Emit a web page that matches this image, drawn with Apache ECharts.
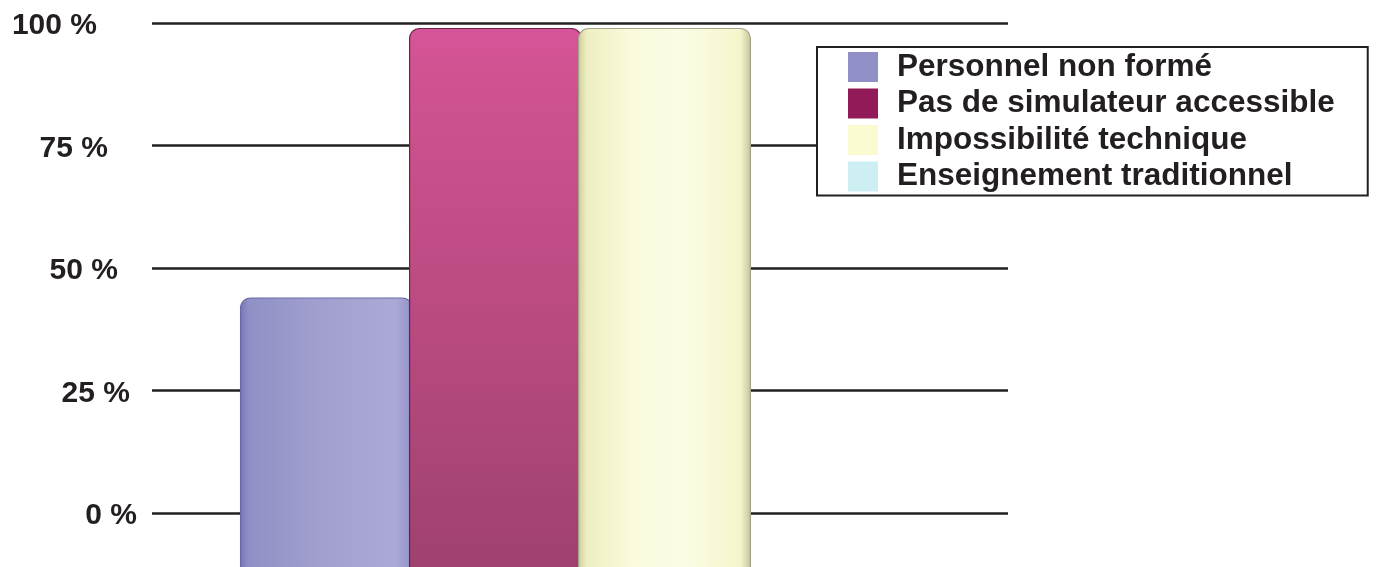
<!DOCTYPE html>
<html>
<head>
<meta charset="utf-8">
<script src="https://cdn.jsdelivr.net/npm/echarts@6/dist/echarts.min.js"></script>
<style>
html,body{margin:0;padding:0;background:#fff;}
#chart{width:1378px;height:567px;}
</style>
</head>
<body>
<div id="chart"></div>
<script>
// ---- data ----
const categories = ['Raisons'];
const seriesNames = ['Personnel non formé', 'Pas de simulateur accessible', 'Impossibilité technique', 'Enseignement traditionnel'];
const personnelNonForme = [44];
const pasDeSimulateur = [99];
const impossibiliteTechnique = [99];
const enseignementTraditionnel = [0];
const tickValues = [0, 25, 50, 75, 100];

// ---- styles ----
const FONT = "'Liberation Sans', Arial, sans-serif";
const TEXT = '#231f20';
const legendColors = ['#9090c6', '#921a58', '#fafad0', '#cdeef2'];
// perspective-like label shift (px to the left of the common label edge), per tick
const labelShift = {0: 0, 25: 7, 50: 19, 75: 29, 100: 40};

function hGrad(stops) {
  return new echarts.graphic.LinearGradient(0, 0, 1, 0, stops.map(s => ({offset: s[0], color: s[1]})));
}
function vGrad(stops) {
  return new echarts.graphic.LinearGradient(0, 0, 0, 1, stops.map(s => ({offset: s[0], color: s[1]})));
}
const barFills = [
  hGrad([[0, '#7676b8'], [0.05, '#9090c6'], [0.45, '#a19fcf'], [0.9, '#aba9d7'], [0.97, '#9a98cc'], [1, '#7474b4']]),
  vGrad([[0, '#d6559a'], [0.08, '#d05290'], [0.5, '#b84a80'], [1, '#983e6c']]),
  hGrad([[0, '#cdcd9a'], [0.05, '#eeeec2'], [0.3, '#fafadc'], [0.6, '#fcfce6'], [0.94, '#f5f5cc'], [1, '#c4c49a']]),
  legendColors[3]
];
const barBorders = ['#6a6aa8', '#6a2446', '#a4a488', '#9ccfd6'];

const dataSets = [personnelNonForme, pasDeSimulateur, impossibiliteTechnique, enseignementTraditionnel];

const chart = echarts.init(document.getElementById('chart'), null, {renderer: 'canvas'});

const series = seriesNames.map((name, i) => ({
  name: name,
  type: 'bar',
  barWidth: 173,
  barGap: '-2.3%',
  data: dataSets[i].map(v => (v === 0 ? '-' : v)),
  itemStyle: {
    color: barFills[i],
    borderColor: barBorders[i],
    borderWidth: 1.2,
    borderRadius: [10, 10, 0, 0]
  },
  emphasis: {disabled: true}
}));

const rich = {};
tickValues.forEach(v => {
  rich['t' + v] = {
    fontFamily: FONT, fontWeight: 'bold', fontSize: 30, color: TEXT,
    padding: [6, labelShift[v], 0, 0]
  };
});

chart.setOption({
  animation: false,
  backgroundColor: '#ffffff',
  grid: {left: 152, width: 856, top: 23, height: 612.5, containLabel: false, outerBoundsMode: 'none'},
  xAxis: {
    type: 'category',
    data: categories,
    show: false
  },
  yAxis: {
    type: 'value',
    min: -25,
    max: 100,
    interval: 25,
    startValue: -25,
    axisLine: {show: false},
    axisTick: {show: false},
    axisLabel: {
      margin: 15,
      formatter: v => (tickValues.indexOf(v) >= 0 ? '{t' + v + '|' + v + ' %}' : ''),
      rich: rich,
      fontFamily: FONT,
      fontWeight: 'bold',
      fontSize: 30,
      color: TEXT
    },
    splitLine: {show: true, lineStyle: {color: TEXT, width: 2.5}}
  },
  legend: {
    orient: 'vertical',
    left: 817,
    top: 47,
    padding: [4, 33, 3, 31],
    itemWidth: 30,
    itemHeight: 30,
    itemGap: 4.5,
    icon: 'rect',
    borderColor: TEXT,
    borderWidth: 2,
    backgroundColor: '#ffffff',
    selectedMode: false,
    data: seriesNames.map((n, i) => ({name: n, itemStyle: {color: legendColors[i], borderWidth: 0}})),
    textStyle: {
      fontFamily: FONT,
      fontWeight: 'bold',
      fontSize: 31.5,
      lineHeight: 30,
      color: TEXT,
      padding: [0, 0, 0, 14]
    }
  },
  series: series
});
</script>
</body>
</html>
